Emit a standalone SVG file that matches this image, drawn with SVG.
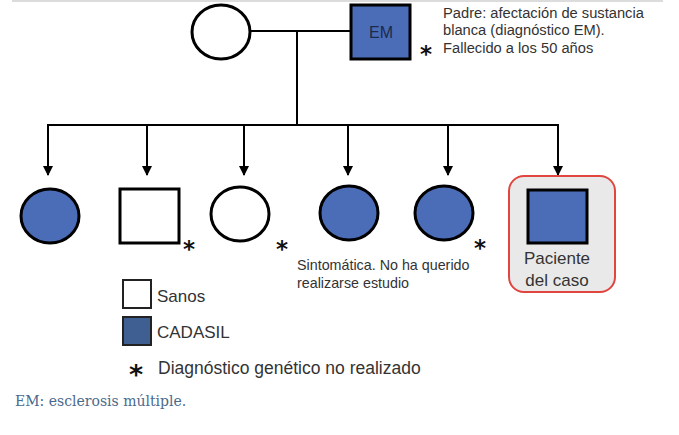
<svg xmlns="http://www.w3.org/2000/svg" width="679" height="435" viewBox="0 0 679 435">
<style>
.sym{stroke:#000;stroke-width:3}
.aff{fill:#4b6cb7}
.un{fill:#fff}
.ln{stroke:#000;stroke-width:2;fill:none}
.t{font-family:"Liberation Sans",Arial,sans-serif;fill:#333}
.ast{font-family:"DejaVu Sans",sans-serif;fill:#111;font-weight:bold;text-anchor:middle}
</style>
<defs>
<marker id="ah" viewBox="0 0 10 10" refX="9" refY="5" markerWidth="10" markerHeight="10" markerUnits="userSpaceOnUse" orient="auto">
<path d="M0,0 L10,5 L0,10 z" fill="#000"/>
</marker>
</defs>
<rect width="679" height="435" fill="#fff"/>
<line x1="12" y1="1" x2="663" y2="1" stroke="#dcdcdc" stroke-width="2"/>
<g id="connectors">
<line class="ln" x1="251" y1="31" x2="350" y2="31"/>
<line class="ln" x1="297" y1="31" x2="297" y2="125"/>
<line class="ln" x1="47" y1="125" x2="559" y2="125"/>
<line class="ln" x1="48" y1="125" x2="48" y2="175" marker-end="url(#ah)"/>
<line class="ln" x1="147" y1="125" x2="147" y2="175" marker-end="url(#ah)"/>
<line class="ln" x1="244" y1="125" x2="244" y2="175" marker-end="url(#ah)"/>
<line class="ln" x1="348" y1="125" x2="348" y2="175" marker-end="url(#ah)"/>
<line class="ln" x1="448" y1="125" x2="448" y2="175" marker-end="url(#ah)"/>
<line class="ln" x1="558" y1="125" x2="558" y2="175" marker-end="url(#ah)"/>
</g>
<g id="mother">
<ellipse class="sym un" cx="221" cy="32" rx="29" ry="27"/>
</g>
<g id="father">
<rect class="sym aff" x="351" y="5" width="59" height="54"/>
<text x="381" y="38" text-anchor="middle" font-family="Liberation Sans,Arial,sans-serif" font-size="16" fill="#1b2a4a">EM</text>
<text class="t" x="443" y="17.5" font-size="14.7">Padre: afectación de sustancia</text>
<text class="t" x="443" y="35" font-size="14.7">blanca (diagnóstico EM).</text>
<text class="ast" x="426" y="61.5" font-size="23">*</text>
<text class="t" x="443" y="52.5" font-size="14.7">Fallecido a los 50 años</text>
</g>
<g id="child1">
<ellipse class="sym aff" cx="50" cy="216" rx="29" ry="27"/>
</g>
<g id="child2">
<rect class="sym un" x="120" y="189" width="59" height="54"/>
<text class="ast" x="189" y="256.5" font-size="23">*</text>
</g>
<g id="child3">
<ellipse class="sym un" cx="240" cy="214" rx="29" ry="27"/>
<text class="ast" x="282" y="256.5" font-size="23">*</text>
</g>
<g id="child4">
<ellipse class="sym aff" cx="349" cy="213" rx="29" ry="27"/>
<text class="t" x="297" y="270" font-size="14.3">Sintomática. No ha querido</text>
<text class="t" x="297" y="288" font-size="14.3">realizarse estudio</text>
</g>
<g id="child5">
<ellipse class="sym aff" cx="444" cy="213" rx="29" ry="27"/>
<text class="ast" x="480" y="255.5" font-size="23">*</text>
</g>
<g id="patient">
<rect x="509" y="176" width="106" height="116" rx="15" fill="#e9e9e9" stroke="#e0463f" stroke-width="2"/>
<rect class="sym aff" x="528" y="190" width="59" height="53"/>
<text class="t" x="557" y="264" text-anchor="middle" font-size="17" fill="#222">Paciente</text>
<text class="t" x="557" y="286" text-anchor="middle" font-size="17" fill="#222">del caso</text>
</g>
<g id="legend">
<rect x="123" y="280" width="28" height="28" fill="#fff" stroke="#222" stroke-width="2"/>
<text class="t" x="157" y="302" font-size="17">Sanos</text>
<rect x="123" y="317" width="28" height="28" fill="#3f5f93" stroke="#222" stroke-width="2"/>
<text class="t" x="157" y="338" font-size="17">CADASIL</text>
<text class="ast" x="136" y="384" font-size="27">*</text>
<text class="t" x="158" y="374" font-size="17.5">Diagnóstico genético no realizado</text>
</g>
<text x="15" y="406" font-family="DejaVu Serif,serif" font-size="14" fill="#4a6a8c">EM: esclerosis múltiple.</text>
</svg>
